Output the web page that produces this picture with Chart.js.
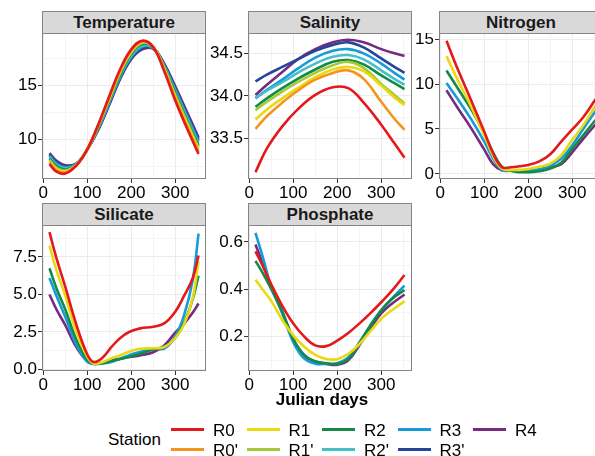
<!DOCTYPE html>
<html lang="en">
<head>
<meta charset="UTF-8" />
<title>Station profiles</title>
<script src="https://cdn.jsdelivr.net/npm/chart.js"></script>
<style>
  html, body { margin: 0; padding: 0; }
  body {
    width: 595px; height: 456px; overflow: hidden; position: relative;
    background: #fff; font-family: "Liberation Sans", Arial, sans-serif;
  }
  .box { position: absolute; }
  .strip {
    position: absolute; box-sizing: border-box; height: 23px;
    background: #d9d9d9; border: 1px solid #858585;
    font-weight: bold; font-size: 17px; color: #1a1a1a;
    text-align: center; line-height: 21px;
  }
  .txt { position: absolute; font-size: 17px; line-height: 17px; color: #000; white-space: nowrap; }
  .key { position: absolute; width: 33px; height: 3px; }
</style>
</head>
<body>
<script>
// stations and colours
const stations = ["R0", "R0'", "R1", "R1'", "R2", "R2'", "R3", "R3'", "R4"];
const stationColors = ["#e3191c", "#f5941d", "#ecd812", "#a3cb38", "#138a48",
                       "#45bfc8", "#179bd7", "#24459a", "#762b80"];

const xTickLabels = ["0", "100", "200", "300"];

// Temperature
const tempDays = [14, 30, 50, 75, 100, 125, 150, 175, 200, 225, 250, 275, 300, 325, 353];
const tempR0  = [7.75, 7.05, 6.88, 7.6, 9.1, 11.4, 14.0, 16.5, 18.3, 19.1, 18.5, 16.3, 13.6, 11.2, 8.68];
const tempR0p = [7.88, 7.16, 6.98, 7.63, 9.1, 11.35, 13.9, 16.4, 18.2, 19.05, 18.55, 16.4, 13.8, 11.4, 8.87];
const tempR1  = [8.0, 7.28, 7.07, 7.65, 9.1, 11.3, 13.8, 16.3, 18.1, 19.0, 18.55, 16.5, 13.95, 11.6, 9.06];
const tempR1p = [8.13, 7.41, 7.17, 7.68, 9.1, 11.25, 13.7, 16.15, 18.0, 18.9, 18.5, 16.6, 14.1, 11.8, 9.25];
const tempR2  = [8.26, 7.55, 7.26, 7.7, 9.1, 11.15, 13.6, 16.0, 17.9, 18.8, 18.5, 16.65, 14.3, 11.95, 9.44];
const tempR2p = [8.39, 7.67, 7.36, 7.73, 9.1, 11.1, 13.5, 15.9, 17.75, 18.65, 18.45, 16.75, 14.45, 12.15, 9.63];
const tempR3  = [8.52, 7.8, 7.45, 7.75, 9.1, 11.0, 13.4, 15.8, 17.6, 18.55, 18.4, 16.8, 14.6, 12.35, 9.82];
const tempR3p = [8.64, 7.92, 7.55, 7.78, 9.1, 10.95, 13.3, 15.7, 17.5, 18.4, 18.4, 16.9, 14.75, 12.5, 10.0];
const tempR4  = [8.77, 8.05, 7.65, 7.8, 9.1, 10.9, 13.2, 15.6, 17.4, 18.3, 18.35, 17.0, 14.9, 12.7, 10.2];
const tempTicks = ["10", "15"];

// Salinity
const salDays = [14, 40, 75, 110, 150, 190, 225, 260, 300, 330, 353];
const salR0  = [33.10, 33.38, 33.64, 33.84, 34.01, 34.10, 34.09, 33.92, 33.66, 33.44, 33.27];
const salR0p = [33.61, 33.76, 33.92, 34.06, 34.19, 34.27, 34.30, 34.20, 33.93, 33.73, 33.60];
const salR1  = [33.72, 33.84, 33.97, 34.09, 34.22, 34.31, 34.34, 34.29, 34.12, 33.98, 33.89];
const salR1p = [33.83, 33.93, 34.05, 34.16, 34.27, 34.36, 34.40, 34.33, 34.14, 34.01, 33.91];
const salR2  = [33.87, 33.97, 34.09, 34.20, 34.31, 34.40, 34.42, 34.37, 34.24, 34.15, 34.08];
const salR2p = [33.98, 34.06, 34.16, 34.27, 34.38, 34.46, 34.48, 34.43, 34.30, 34.20, 34.13];
const salR3  = [33.97, 34.07, 34.19, 34.32, 34.45, 34.53, 34.55, 34.50, 34.38, 34.27, 34.19];
const salR3p = [34.17, 34.25, 34.34, 34.43, 34.53, 34.60, 34.63, 34.57, 34.44, 34.34, 34.27];
const salR4  = [34.01, 34.13, 34.28, 34.43, 34.55, 34.63, 34.66, 34.63, 34.55, 34.50, 34.47];
const salTicks = ["33.5", "34.0", "34.5"];

// Nitrogen
const nitDays = [14, 40, 70, 100, 120, 140, 160, 180, 200, 225, 250, 275, 300, 325, 353];
const nitR0 = [14.8, 11.6, 8.2, 4.7, 2.3, 0.75, 0.75, 0.85, 1.0, 1.4, 2.2, 3.6, 4.95, 6.3, 8.3];
const nitR1 = [13.1, 10.4, 7.5, 4.3, 2.0, 0.6, 0.45, 0.45, 0.55, 0.8, 1.15, 2.1, 3.8, 5.4, 7.6];
const nitR2 = [11.5, 9.5, 7.2, 4.5, 2.4, 0.8, 0.35, 0.2, 0.2, 0.3, 0.6, 1.25, 2.8, 4.3, 6.0];
const nitR3 = [10.1, 8.3, 6.1, 3.6, 1.7, 0.45, 0.35, 0.35, 0.35, 0.5, 0.9, 1.7, 3.2, 5.0, 7.0];
const nitR4 = [9.3, 7.3, 5.1, 2.7, 1.1, 0.42, 0.37, 0.36, 0.4, 0.5, 0.75, 1.1, 2.4, 3.9, 5.5];
const nitTicks = ["0", "5", "10", "15"];

// Silicate
const silDays = [14, 30, 50, 75, 100, 115, 135, 155, 175, 195, 220, 250, 275, 300, 320, 340, 353];
const silR0 = [9.15, 7.4, 5.5, 3.0, 1.0, 0.5, 0.8, 1.5, 2.1, 2.5, 2.74, 2.85, 3.07, 3.85, 4.9, 6.1, 7.6];
const silR1 = [8.25, 6.6, 4.9, 2.5, 0.85, 0.4, 0.5, 0.75, 0.95, 1.18, 1.38, 1.42, 1.5, 2.1, 3.0, 4.8, 7.2];
const silR2 = [6.75, 5.4, 4.0, 2.0, 0.65, 0.38, 0.42, 0.56, 0.7, 0.83, 1.05, 1.33, 1.5, 2.1, 3.1, 4.7, 6.25];
const silR3 = [6.1, 4.9, 3.5, 1.65, 0.5, 0.37, 0.4, 0.5, 0.72, 0.95, 1.17, 1.4, 1.4, 2.2, 3.6, 6.0, 9.05];
const silR4 = [5.0, 4.0, 2.95, 1.5, 0.55, 0.4, 0.45, 0.6, 0.72, 0.83, 0.94, 1.15, 1.6, 2.45, 3.05, 3.8, 4.4];
const silTicks = ["0.0", "2.5", "5.0", "7.5"];

// Phosphate
const phoDays = [14, 30, 50, 75, 100, 125, 150, 175, 200, 225, 250, 275, 300, 325, 353];
const phoR0 = [0.56, 0.50, 0.42, 0.33, 0.255, 0.2, 0.163, 0.16, 0.183, 0.215, 0.255, 0.298, 0.345, 0.395, 0.46];
const phoR1 = [0.44, 0.40, 0.35, 0.27, 0.205, 0.157, 0.123, 0.106, 0.105, 0.127, 0.168, 0.222, 0.275, 0.312, 0.35];
const phoR2 = [0.52, 0.47, 0.40, 0.305, 0.19, 0.123, 0.095, 0.088, 0.085, 0.105, 0.17, 0.245, 0.31, 0.36, 0.397];
const phoR3 = [0.638, 0.54, 0.41, 0.298, 0.177, 0.107, 0.086, 0.085, 0.088, 0.112, 0.175, 0.247, 0.312, 0.362, 0.415];
const phoR4 = [0.589, 0.51, 0.41, 0.305, 0.19, 0.12, 0.095, 0.085, 0.081, 0.1, 0.163, 0.234, 0.298, 0.34, 0.378];
const phoTicks = ["0.2", "0.4", "0.6"];

// layout
const COL_X = [42, 248, 439];
const ROW_Y = [33, 225];
const PLOT_W = 164, PLOT_H = 146;
const AXIS_W = 40, XAXIS_H = 24;
const X_MIN = -3, X_MAX = 370;
const FONT = { family: '"Liberation Sans", Arial, sans-serif', size: 17 };

const panels = [
  { title: "Temperature", col: 0, row: 0, days: tempDays, yMin: 6.38, yMax: 19.81, ticks: tempTicks,
    series: [tempR0, tempR0p, tempR1, tempR1p, tempR2, tempR2p, tempR3, tempR3p, tempR4],
    names: stations },
  { title: "Salinity", col: 1, row: 0, days: salDays, yMin: 33.02, yMax: 34.74, ticks: salTicks,
    series: [salR0, salR0p, salR1, salR1p, salR2, salR2p, salR3, salR3p, salR4],
    names: stations },
  { title: "Nitrogen", col: 2, row: 0, days: nitDays, yMin: -0.56, yMax: 15.67, ticks: nitTicks,
    series: [nitR0, nitR1, nitR2, nitR3, nitR4], names: ["R0", "R1", "R2", "R3", "R4"] },
  { title: "Silicate", col: 0, row: 1, days: silDays, yMin: -0.1, yMax: 9.63, ticks: silTicks,
    series: [silR0, silR1, silR2, silR3, silR4], names: ["R0", "R1", "R2", "R3", "R4"] },
  { title: "Phosphate", col: 1, row: 1, days: phoDays, yMin: 0.055, yMax: 0.671, ticks: phoTicks,
    series: [phoR0, phoR1, phoR2, phoR3, phoR4], names: ["R0", "R1", "R2", "R3", "R4"] },
];

// grey frame around each panel
const panelBorder = {
  id: "panelBorder",
  afterDraw(chart) {
    const { ctx, chartArea: a } = chart;
    ctx.save();
    ctx.strokeStyle = "#858585";
    ctx.lineWidth = 1;
    ctx.strokeRect(a.left + 0.5, a.top + 0.5, a.width - 1, a.height - 1);
    ctx.restore();
  },
};

// majors plus the minor lines half way between them
function gridValues(major, lo, hi) {
  const step = major.length > 1 ? major[1] - major[0] : 1;
  const out = [];
  for (let v = major[0] - step; v <= major[major.length - 1] + step + 1e-9; v += step / 2) {
    if (v >= lo && v <= hi) out.push(+v.toFixed(6));
  }
  return out;
}

function makePanel(p) {
  const left = COL_X[p.col], top = ROW_Y[p.row];

  const strip = document.createElement("div");
  strip.className = "strip";
  strip.style.left = left + "px";
  strip.style.top = (top - 22) + "px";
  strip.style.width = PLOT_W + "px";
  strip.textContent = p.title;
  document.body.appendChild(strip);

  const box = document.createElement("div");
  box.className = "box";
  box.style.left = (left - AXIS_W) + "px";
  box.style.top = top + "px";
  box.style.width = (AXIS_W + PLOT_W) + "px";
  box.style.height = (PLOT_H + XAXIS_H) + "px";
  const canvas = document.createElement("canvas");
  box.appendChild(canvas);
  document.body.appendChild(box);

  const yMajor = p.ticks.map(Number);
  const xMajor = xTickLabels.map(Number);
  const yGrid = gridValues(yMajor, p.yMin, p.yMax);
  const xGrid = gridValues(xMajor, X_MIN, X_MAX);
  const isMajor = (list, v) => list.some((m) => Math.abs(m - v) < 1e-6);

  const datasets = p.series.map((vals, i) => ({
    label: p.names[i],
    data: p.days.map((d, j) => ({ x: d, y: vals[j] })),
    borderColor: stationColors[stations.indexOf(p.names[i])],
    borderWidth: 2.6,
    pointRadius: 0,
    tension: 0.4,
    fill: false,
  }));

  const gridOpts = (list) => ({
    color: (c) => (isMajor(list, c.tick.value) ? "#ebebeb" : "#f4f4f4"),
    tickColor: (c) => (isMajor(list, c.tick.value) ? "#333333" : "rgba(0,0,0,0)"),
    tickLength: 4,
    lineWidth: 1,
  });

  new Chart(canvas, {
    type: "line",
    data: { datasets },
    options: {
      animation: false,
      responsive: true,
      maintainAspectRatio: false,
      layout: { padding: 0 },
      plugins: { legend: { display: false }, tooltip: { enabled: false } },
      scales: {
        x: {
          type: "linear",
          min: X_MIN,
          max: X_MAX,
          afterBuildTicks: (s) => { s.ticks = xGrid.map((v) => ({ value: v })); },
          afterFit: (s) => { s.height = XAXIS_H; s.paddingLeft = 0; s.paddingRight = 0; },
          ticks: {
            autoSkip: false, maxRotation: 0, padding: 0, color: "#000", font: FONT,
            callback: (v) => { const k = xMajor.findIndex((m) => Math.abs(m - v) < 1e-6); return k < 0 ? "" : xTickLabels[k]; },
          },
          grid: gridOpts(xMajor),
          border: { display: false },
        },
        y: {
          type: "linear",
          min: p.yMin,
          max: p.yMax,
          afterBuildTicks: (s) => { s.ticks = yGrid.map((v) => ({ value: v })); },
          afterFit: (s) => { s.width = AXIS_W; s.paddingTop = 0; s.paddingBottom = 0; },
          ticks: {
            autoSkip: false, padding: 1, color: "#000", font: FONT,
            callback: (v) => { const k = yMajor.findIndex((m) => Math.abs(m - v) < 1e-6); return k < 0 ? "" : p.ticks[k]; },
          },
          grid: gridOpts(yMajor),
          border: { display: false },
        },
      },
    },
    plugins: [panelBorder],
  });
}

panels.forEach(makePanel);

// axis title
function addText(str, x, y, bold, align) {
  const d = document.createElement("div");
  d.className = "txt";
  d.textContent = str;
  d.style.top = y + "px";
  if (bold) d.style.fontWeight = "bold";
  if (align === "center") { d.style.left = (x - 100) + "px"; d.style.width = "200px"; d.style.textAlign = "center"; }
  else d.style.left = x + "px";
  document.body.appendChild(d);
}
addText("Julian days", 322, 390.5, true, "center");

// legend, filled column by column
addText("Station", 108, 431, false);
const legendRows = [429, 449];
stations.forEach((s, i) => {
  const col = Math.floor(i / 2), row = i % 2;
  const kx = 171 + col * 75.5;
  const key = document.createElement("div");
  key.className = "key";
  key.style.left = kx + "px";
  key.style.top = (legendRows[row] - 1.5) + "px";
  key.style.background = stationColors[i];
  document.body.appendChild(key);
  addText(s, kx + 42, legendRows[row] - 7.5, false);
});
</script>
</body>
</html>
